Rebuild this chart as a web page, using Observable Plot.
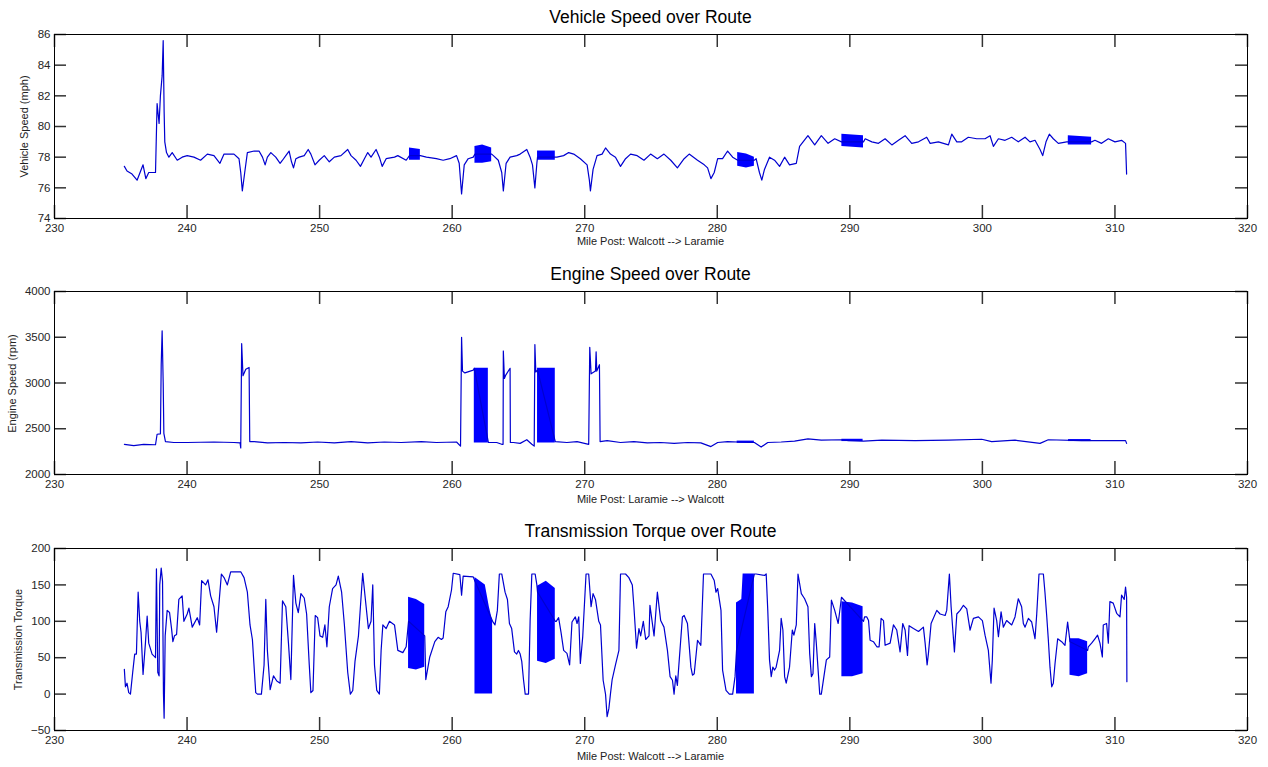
<!DOCTYPE html>
<html><head><meta charset="utf-8">
<script src="https://cdn.jsdelivr.net/npm/d3@7"></script>
<script src="https://cdn.jsdelivr.net/npm/@observablehq/plot@0.6"></script>
<style>
body{margin:0;background:#fff;}
#wrap{position:relative;width:1268px;height:767px;font-family:"Liberation Sans",Arial,sans-serif;overflow:hidden;}
.chartpanel{position:absolute;left:0;}
.title{position:absolute;left:54px;width:1193px;text-align:center;font-size:17.5px;color:#000;line-height:1;white-space:nowrap;pointer-events:none;}
.xlab{position:absolute;left:54px;width:1193px;text-align:center;font-size:11px;color:#222;line-height:1;white-space:nowrap;pointer-events:none;}
.ylab{position:absolute;width:240px;height:11px;text-align:center;font-size:11px;color:#222;line-height:1;white-space:nowrap;transform:rotate(-90deg);transform-origin:center center;pointer-events:none;}
</style></head><body><div id="wrap"></div>
<script>
// ---------- data ----------
const xTicks = [230, 240, 250, 260, 270, 280, 290, 300, 310, 320];
const speedTicks = [74, 76, 78, 80, 82, 84, 86];
const rpmTicks = [2000, 2500, 3000, 3500, 4000];
const torqueTicks = [-50, 0, 50, 100, 150, 200];

const titles = ["Vehicle Speed over Route", "Engine Speed over Route", "Transmission Torque over Route"];
const xLabels = ["Mile Post: Walcott --> Laramie", "Mile Post: Laramie --> Walcott", "Mile Post: Walcott --> Laramie"];
const yLabels = ["Vehicle Speed (mph)", "Engine Speed (rpm)", "Transmission Torque"];

// [mile post, mph]
const vehicleSpeed = [[235.27,77.4],[235.47,77.1],[235.85,76.9],[236.23,76.5],[236.68,77.5],[236.89,76.6],[237.11,77.0],[237.62,77.0],[237.74,81.5],[237.89,80.2],[237.99,82.0],[238.12,83.3],[238.20,85.6],[238.27,81.0],[238.32,79.0],[238.45,78.3],[238.63,78.0],[238.88,78.3],[239.26,77.8],[239.63,78.0],[240.01,78.1],[240.52,78.0],[241.02,77.8],[241.53,78.2],[242.03,78.1],[242.48,77.6],[242.79,78.2],[243.54,78.2],[243.92,77.9],[244.05,77.0],[244.17,75.8],[244.35,77.0],[244.55,78.3],[245.06,78.4],[245.43,78.4],[245.69,78.0],[245.89,77.5],[246.06,78.0],[246.32,78.3],[246.69,78.0],[247.02,77.6],[247.20,77.8],[247.45,78.1],[247.70,78.4],[247.88,77.7],[248.03,77.3],[248.21,77.9],[248.46,78.0],[248.84,78.1],[249.14,78.5],[249.34,78.2],[249.65,77.5],[249.97,77.8],[250.35,78.1],[250.73,77.7],[251.11,78.0],[251.61,78.1],[252.12,78.5],[252.37,78.1],[252.75,77.8],[253.08,77.4],[253.38,77.9],[253.63,78.3],[253.88,78.0],[254.26,78.5],[254.51,78.0],[254.72,77.4],[255.02,77.9],[255.65,78.0],[255.90,78.1],[256.53,77.8],[256.78,78.1],[257.60,78.1],[258.06,78.0],[258.81,77.9],[259.32,77.8],[259.82,77.9],[260.33,78.1],[260.53,77.6],[260.71,75.6],[260.91,77.5],[261.21,77.9],[261.59,78.0],[261.72,78.2],[262.98,78.2],[263.11,78.1],[263.48,77.8],[263.74,77.0],[263.86,75.8],[264.07,77.6],[264.37,78.0],[264.87,78.1],[265.13,78.2],[265.63,78.5],[265.88,78.0],[266.06,77.5],[266.24,76.0],[266.39,77.6],[266.44,78.0],[267.78,78.0],[267.90,78.0],[268.41,78.1],[268.79,78.3],[269.17,78.2],[269.67,77.9],[270.18,77.5],[270.35,76.5],[270.43,75.8],[270.63,77.2],[270.93,78.1],[271.31,78.2],[271.57,78.6],[271.94,78.2],[272.32,78.0],[272.70,77.4],[273.08,77.9],[273.46,78.2],[273.96,78.1],[274.47,77.8],[274.97,78.2],[275.48,77.9],[275.98,78.2],[276.49,77.8],[276.99,77.3],[277.50,77.9],[277.88,78.2],[278.51,77.8],[279.02,77.5],[279.27,77.3],[279.52,76.6],[279.77,77.0],[280.03,77.9],[280.40,77.9],[280.78,78.4],[281.16,78.0],[281.54,77.8],[282.80,77.8],[282.93,77.9],[283.18,77.0],[283.36,76.5],[283.56,77.2],[283.94,78.0],[284.32,77.8],[284.70,77.4],[285.08,78.0],[285.45,77.5],[285.96,77.6],[286.21,78.7],[286.84,79.4],[287.35,78.8],[287.85,79.4],[288.36,78.9],[288.86,79.2],[289.37,79.0],[291.03,79.0],[291.16,79.2],[291.66,79.0],[292.16,78.9],[292.66,79.2],[293.17,78.8],[293.67,79.1],[294.17,79.4],[294.67,78.9],[295.18,79.0],[295.80,79.3],[296.06,78.9],[296.68,79.0],[297.44,78.8],[297.69,79.5],[298.07,79.0],[298.44,79.0],[298.94,79.3],[299.57,79.2],[300.20,79.2],[300.58,79.4],[300.83,78.7],[301.21,79.2],[301.71,79.1],[302.21,79.3],[302.71,79.0],[303.22,79.3],[303.59,79.0],[303.97,79.1],[304.35,78.5],[304.55,78.1],[304.80,79.0],[305.05,79.5],[305.35,79.2],[305.73,78.9],[306.36,79.0],[306.48,79.0],[308.24,79.0],[308.49,79.1],[308.99,78.9],[309.50,79.2],[310.00,79.0],[310.50,79.1],[310.80,78.9],[310.88,76.9]];

// dense oscillation bands: [mile post, low, high]
const vehicleBands = [
  [[256.78,77.8,78.6],[257.60,77.8,78.5]],
  [[261.72,77.6,78.7],[262.30,77.6,78.8],[262.98,77.7,78.6]],
  [[266.44,77.8,78.4],[267.78,77.8,78.4]],
  [[281.54,77.4,78.3],[282.20,77.3,78.2],[282.80,77.4,78.0]],
  [[289.40,78.7,79.5],[291.03,78.6,79.4]],
  [[306.48,78.8,79.4],[308.24,78.8,79.3]]
];

// [mile post, rpm]
const engineSpeed = [[235.27,2330],[235.98,2315],[236.73,2330],[237.62,2325],[237.74,2440],[237.99,2445],[238.05,3200],[238.12,3570],[238.20,3000],[238.25,2450],[238.37,2360],[239.00,2350],[240.01,2350],[242.03,2355],[243.54,2350],[244.00,2345],[244.05,2290],[244.12,3430],[244.22,3080],[244.43,3150],[244.68,3170],[244.73,2360],[245.06,2360],[246.07,2345],[247.33,2350],[248.59,2345],[249.85,2355],[251.11,2345],[252.37,2360],[253.63,2345],[254.89,2355],[256.15,2350],[257.67,2360],[258.81,2350],[260.33,2355],[260.63,2310],[260.71,3500],[260.78,3130],[260.96,3110],[261.59,3140],[261.67,3160],[262.73,2350],[262.80,2350],[263.36,2350],[263.74,2330],[263.84,2330],[263.86,3350],[263.94,3050],[264.02,3080],[264.32,3150],[264.37,3160],[264.39,2350],[264.62,2350],[265.13,2340],[265.63,2380],[266.01,2330],[266.19,2310],[266.24,3420],[266.31,3120],[266.44,3140],[267.78,2360],[268.66,2350],[269.42,2360],[270.30,2330],[270.38,3390],[270.48,3100],[270.81,3130],[270.86,3340],[270.91,3130],[271.11,3200],[271.16,2360],[271.69,2370],[272.70,2350],[273.71,2360],[274.72,2345],[275.73,2350],[276.74,2340],[277.75,2350],[278.76,2345],[279.52,2305],[280.03,2350],[280.78,2360],[281.54,2355],[282.80,2350],[283.31,2300],[283.81,2350],[284.82,2355],[285.83,2365],[286.84,2390],[287.85,2375],[289.37,2380],[289.90,2370],[291.03,2365],[292.41,2375],[294.92,2370],[297.44,2375],[299.95,2385],[300.70,2360],[302.46,2375],[304.35,2340],[304.97,2380],[307.49,2370],[310.00,2370],[310.80,2370],[310.88,2340]];

const engineBands = [
  [[261.67,2345,3160],[262.73,2345,3160]],
  [[266.44,2345,3160],[267.78,2345,3160]],
  [[281.50,2340,2365],[282.80,2340,2365]],
  [[289.40,2360,2385],[291.00,2360,2385]],
  [[306.50,2360,2382],[308.20,2360,2382]]
];

// [mile post, torque]
const torque = [[235.27,34],[235.35,10],[235.47,15],[235.60,2],[235.73,0],[235.90,30],[236.05,55],[236.18,55],[236.31,140],[236.43,100],[236.53,85],[236.68,27],[236.86,70],[236.99,107],[237.11,70],[237.36,55],[237.62,50],[237.69,172],[237.79,30],[237.89,25],[237.94,150],[238.05,173],[238.15,155],[238.22,0],[238.27,-33],[238.35,80],[238.50,115],[238.68,112],[238.83,90],[238.93,72],[239.05,80],[239.21,82],[239.38,130],[239.63,135],[239.76,100],[240.01,110],[240.14,118],[240.39,92],[240.77,105],[240.95,95],[241.10,156],[241.40,150],[241.58,157],[241.78,135],[242.03,120],[242.23,85],[242.41,125],[242.59,165],[242.79,160],[243.04,150],[243.29,168],[244.05,168],[244.30,160],[244.55,140],[244.75,95],[244.93,75],[245.18,2],[245.31,0],[245.61,0],[245.81,40],[245.94,130],[246.06,60],[246.27,6],[246.52,25],[246.77,18],[247.02,15],[247.20,128],[247.45,120],[247.65,70],[247.83,20],[248.03,163],[248.21,125],[248.39,112],[248.59,138],[248.84,132],[249.02,110],[249.22,40],[249.34,2],[249.50,5],[249.67,108],[249.85,105],[250.03,80],[250.23,78],[250.40,95],[250.55,65],[250.73,120],[250.98,145],[251.24,150],[251.41,162],[251.66,140],[251.87,95],[252.12,30],[252.32,0],[252.50,5],[252.67,45],[252.93,80],[253.25,166],[253.51,120],[253.68,90],[253.88,100],[254.01,150],[254.14,40],[254.31,5],[254.51,0],[254.64,60],[254.77,95],[255.02,90],[255.27,100],[255.65,95],[255.90,60],[256.28,57],[256.53,65],[256.71,100],[257.93,80],[258.01,20],[258.31,51],[258.69,72],[258.94,78],[259.19,75],[259.32,77],[259.52,113],[259.70,120],[259.95,143],[260.08,166],[260.58,164],[260.71,136],[260.83,162],[261.59,161],[261.72,155],[263.05,100],[263.23,95],[263.41,115],[263.56,165],[263.74,165],[263.99,140],[264.17,130],[264.32,97],[264.49,90],[264.70,58],[264.87,55],[265.00,60],[265.13,55],[265.25,45],[265.38,20],[265.51,0],[265.76,0],[265.88,100],[266.01,165],[266.26,165],[266.39,150],[266.44,140],[267.78,100],[267.85,100],[268.03,105],[268.21,85],[268.41,60],[268.66,56],[268.86,40],[269.04,99],[269.29,106],[269.42,97],[269.55,106],[269.67,42],[269.85,79],[270.10,165],[270.30,165],[270.48,120],[270.63,138],[270.81,130],[271.06,100],[271.19,95],[271.39,19],[271.57,0],[271.69,-31],[271.82,-20],[271.94,0],[272.07,20],[272.32,40],[272.58,60],[272.70,165],[273.08,165],[273.33,160],[273.59,150],[273.71,120],[273.91,63],[274.09,90],[274.22,80],[274.42,100],[274.60,75],[274.85,80],[274.92,122],[275.23,80],[275.48,140],[275.73,101],[275.98,92],[276.24,60],[276.44,24],[276.62,19],[276.74,0],[276.87,25],[276.99,12],[277.37,106],[277.50,108],[277.75,97],[278.01,37],[278.13,26],[278.26,28],[278.51,74],[278.76,67],[278.96,165],[279.52,165],[279.77,156],[279.90,140],[280.03,145],[280.28,115],[280.40,33],[280.66,5],[280.91,0],[281.16,0],[281.34,24],[281.45,60],[282.80,165],[282.93,165],[283.56,163],[283.69,165],[283.81,115],[283.94,47],[284.07,24],[284.19,37],[284.32,33],[284.44,37],[284.70,60],[284.82,104],[284.95,88],[285.08,24],[285.20,15],[285.45,37],[285.66,88],[285.78,81],[285.96,95],[286.09,165],[286.34,138],[286.59,131],[286.84,120],[286.97,56],[287.10,24],[287.22,28],[287.35,97],[287.47,70],[287.73,0],[287.85,0],[287.98,16],[288.23,47],[288.48,51],[288.61,129],[288.86,115],[289.12,97],[289.37,133],[291.03,100],[291.11,106],[291.28,106],[291.41,101],[291.53,74],[291.78,72],[292.04,65],[292.21,65],[292.36,104],[292.54,101],[292.66,67],[293.04,70],[293.29,95],[293.54,88],[293.79,58],[293.99,97],[294.17,88],[294.35,53],[294.47,94],[294.80,90],[295.18,86],[295.55,92],[295.68,70],[295.83,40],[295.93,56],[296.13,97],[296.56,115],[296.81,110],[297.19,108],[297.31,115],[297.51,165],[297.64,120],[297.89,58],[298.07,110],[298.32,115],[298.57,122],[298.82,117],[299.07,88],[299.32,104],[299.70,106],[300.00,101],[300.20,81],[300.45,60],[300.65,15],[300.75,47],[300.88,118],[301.08,101],[301.21,79],[301.41,113],[301.58,92],[301.83,101],[302.21,95],[302.46,106],[302.71,131],[302.96,120],[303.09,97],[303.22,92],[303.47,104],[303.72,99],[303.97,76],[304.10,110],[304.27,165],[304.60,165],[304.72,140],[304.85,108],[304.97,76],[305.10,37],[305.23,10],[305.35,15],[305.48,42],[305.68,76],[305.98,72],[306.23,67],[306.43,99],[306.61,72],[307.94,60],[307.99,65],[308.24,70],[308.49,76],[308.69,81],[308.87,70],[309.05,51],[309.12,95],[309.37,97],[309.50,70],[309.62,127],[309.87,125],[310.13,111],[310.38,106],[310.50,136],[310.70,130],[310.80,147],[310.88,133],[310.90,17]];

const torqueBands = [
  [[256.71,35,133],[257.30,33,130],[257.93,37,123]],
  [[261.72,0,160],[262.50,0,150],[262.80,0,120],[263.05,0,100]],
  [[266.44,45,148],[267.10,42,155],[267.78,48,145]],
  [[281.45,0,125],[281.85,0,130],[281.95,0,165],[282.80,0,165]],
  [[289.40,24,127],[290.20,24,125],[291.00,28,120]],
  [[306.61,26,76],[307.30,24,76],[307.94,28,72]]
];

// ---------- drawing ----------
const LINE = "#0000d0";
const BAND = "#0000ff";
const AXIS = "#000";
const TICK = "#333";
const FONT = "'Liberation Sans', Arial, sans-serif";
const X_DOMAIN = [230, 320];
const wrap = document.getElementById("wrap");

function panel({line, bands, yDomain, yTicks, top, height, mt, mb}) {
  const lineData = line.map(([x, y]) => ({x, y}));
  const bandData = bands.flatMap((b, i) => b.map(([x, lo, hi]) => ({b: i, x, lo, hi})));
  const plotW = 1268 - 54 - 21, plotH = height - mt - mb;
  // inward tick lengths (13px on x, 12px on y) expressed in data units
  const xLen = 13 * (yDomain[1] - yDomain[0]) / plotH;
  const yLen = 12 * (X_DOMAIN[1] - X_DOMAIN[0]) / plotW;
  const xTickSegs = xTicks.flatMap(t => [
    {x: t, a: yDomain[0], b: yDomain[0] + xLen},
    {x: t, a: yDomain[1], b: yDomain[1] - xLen}
  ]);
  const yTickSegs = yTicks.flatMap(t => [
    {y: t, a: X_DOMAIN[0], b: X_DOMAIN[0] + yLen},
    {y: t, a: X_DOMAIN[1], b: X_DOMAIN[1] - yLen}
  ]);
  const svg = Plot.plot({
    width: 1268, height,
    marginLeft: 54, marginRight: 21, marginTop: mt, marginBottom: mb,
    style: {fontFamily: FONT, fontSize: "11.5px", color: "#262626", background: "transparent"},
    x: {domain: X_DOMAIN, label: null},
    y: {domain: yDomain, label: null},
    marks: [
      Plot.areaY(bandData, {x: "x", y1: "lo", y2: "hi", z: "b", fill: BAND, curve: "linear"}),
      Plot.lineY(lineData, {x: "x", y: "y", stroke: LINE, strokeWidth: 1.2, curve: "linear"}),
      Plot.ruleX(xTickSegs, {x: "x", y1: "a", y2: "b", stroke: TICK, strokeWidth: 1.5}),
      Plot.ruleY(yTickSegs, {y: "y", x1: "a", x2: "b", stroke: TICK, strokeWidth: 1.5}),
      Plot.frame({stroke: AXIS, strokeWidth: 1}),
      Plot.axisX({ticks: xTicks, anchor: "bottom", tickSize: 0, tickPadding: 5, tickFormat: d3.format("d"), label: null}),
      Plot.axisY({ticks: yTicks, anchor: "left", tickSize: 0, tickPadding: 4, tickFormat: d3.format("d"), label: null})
    ]
  });
  svg.classList.add("chartpanel");
  svg.style.top = top + "px";
  wrap.appendChild(svg);
}

panel({line: vehicleSpeed, bands: vehicleBands, yDomain: [74, 86], yTicks: speedTicks, top: 0, height: 250, mt: 34, mb: 32});
panel({line: engineSpeed, bands: engineBands, yDomain: [2000, 4000], yTicks: rpmTicks, top: 250, height: 260, mt: 41, mb: 36});
panel({line: torque, bands: torqueBands, yDomain: [-50, 200], yTicks: torqueTicks, top: 507, height: 260, mt: 41, mb: 37});

function addText(cls, text, styles) {
  const d = document.createElement("div");
  d.className = cls;
  d.textContent = text;
  Object.assign(d.style, styles);
  wrap.appendChild(d);
}
const titleTops = [9, 266, 523];
const xLabelTops = [236, 494, 751];
const yLabelCenters = [[24, 126], [11.5, 383], [17.5, 639]];
titles.forEach((t, i) => addText("title", t, {top: titleTops[i] + "px"}));
xLabels.forEach((t, i) => addText("xlab", t, {top: xLabelTops[i] + "px"}));
yLabels.forEach((t, i) => addText("ylab", t, {left: (yLabelCenters[i][0] - 120) + "px", top: (yLabelCenters[i][1] - 5.5) + "px"}));
</script>
</body></html>
